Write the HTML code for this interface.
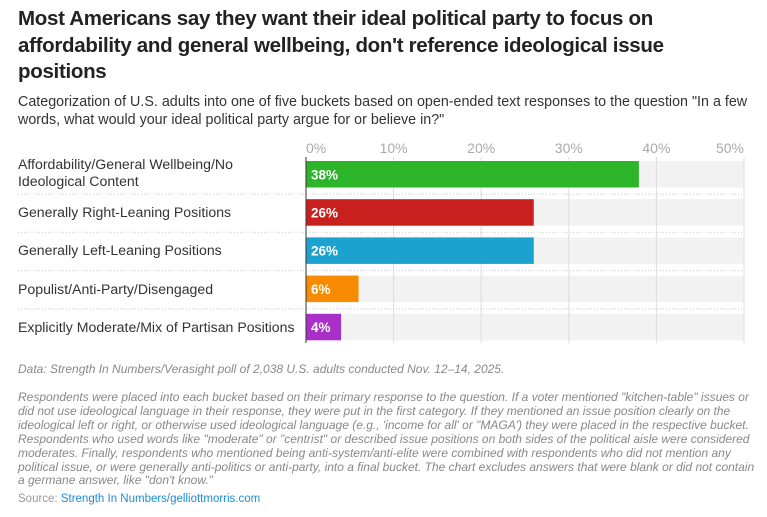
<!DOCTYPE html>
<html><head><meta charset="utf-8"><style>
body{margin:0;width:767px;height:517px;background:#fff;font-family:"Liberation Sans",sans-serif;color:#222;overflow:hidden;position:relative}
.t{position:absolute;left:18px;top:6px;white-space:nowrap;font-size:20.5px;font-weight:bold;line-height:26.5px;letter-spacing:-0.3px;color:#222}
.s{position:absolute;left:18px;top:93px;white-space:nowrap;font-size:14.3px;line-height:18px;color:#333}
.lbl{position:absolute;left:18px;font-size:14.1px;line-height:17px;color:#333}
.n{position:absolute;left:18px;font-size:12px;font-style:italic;color:#888;line-height:13.9px;white-space:nowrap;letter-spacing:0}
.src{position:absolute;left:18px;top:493px;font-size:11.5px;color:#999}
.src span{color:#1a8fd6}
</style></head><body>
<div class="t">Most Americans say they want their ideal political party to focus on<br>affordability and general wellbeing, don't reference ideological issue<br>positions</div>
<div class="s">Categorization of U.S. adults into one of five buckets based on open-ended text responses to the question "In a few<br>words, what would your ideal political party argue for or believe in?"</div>
<svg id="c" width="767" height="517" style="position:absolute;left:0;top:0"></svg>
<div id="labels"></div>
<div class="n" style="top:363px">Data: Strength In Numbers/Verasight poll of 2,038 U.S. adults conducted Nov. 12–14, 2025.</div>
<div class="n" style="top:391px">Respondents were placed into each bucket based on their primary response to the question. If a voter mentioned "kitchen-table" issues or<br>did not use ideological language in their response, they were put in the first category. If they mentioned an issue position clearly on the<br>ideological left or right, or otherwise used ideological language (e.g., 'income for all' or "MAGA') they were placed in the respective bucket.<br>Respondents who used words like "moderate" or "centrist" or described issue positions on both sides of the political aisle were considered<br>moderates. Finally, respondents who mentioned being anti-system/anti-elite were combined with respondents who did not mention any<br>political issue, or were generally anti-politics or anti-party, into a final bucket. The chart excludes answers that were blank or did not contain<br>a germane answer, like "don't know."</div>
<div class="src">Source: <span>Strength In Numbers/gelliottmorris.com</span></div>
<script>
const categories=["Affordability/General Wellbeing/No Ideological Content","Generally Right-Leaning Positions","Generally Left-Leaning Positions","Populist/Anti-Party/Disengaged","Explicitly Moderate/Mix of Partisan Positions"];
const values=[38,26,26,6,4];
const colors=["#2db52a","#c91f1f","#1ba2cf","#f98b00","#a92fc9"];
const ticks=[0,10,20,30,40,50];
const x0=306,x1=744,max=50;
const xs=v=>x0+(x1-x0)*v/max;
const rowTop=i=>161+i*38.2, bh=26.5;
const svg=document.getElementById('c'),NS="http://www.w3.org/2000/svg";
function mk(t,a){const e=document.createElementNS(NS,t);for(const k in a)e.setAttribute(k,a[k]);svg.appendChild(e);return e;}
categories.forEach((c,i)=>{
 const bg=mk('rect',{x:x0,y:rowTop(i),width:x1-x0,height:bh,fill:'#f2f2f2'});
 
 
});
ticks.forEach(t=>{
 if(t>0){const l=mk('line',{x1:xs(t),x2:xs(t),y1:157,y2:343,stroke:'#ddd','stroke-width':1});
 
 }
 const tx=mk('text',{x:t===50?x1:xs(t),y:153,'text-anchor':t===0?'start':(t===50?'end':'middle'),'font-size':14,fill:'#aaa','font-family':'Liberation Sans'});
 tx.textContent=t+'%';
 
 
});
const lab=document.getElementById('labels');
categories.forEach((c,i)=>{
 const y=rowTop(i);
 if(i>0){const s=mk('line',{x1:18,x2:744,y1:y-5,y2:y-5,stroke:'#ccc','stroke-dasharray':'1,2'});
 
 }
 const r=mk('rect',{x:x0,y:y,width:xs(values[i])-x0,height:bh,fill:colors[i]});
 
 
 const v=mk('text',{x:x0+5,y:y+bh/2+5,'font-size':13.5,'font-weight':'bold',fill:'#fff','font-family':'Liberation Sans'});
 v.textContent=values[i]+'%';
 
 
 const d=document.createElement('div');
 d.className='lbl';
 
 
 d.textContent=c;
 d.style.width=(i===4?300:260)+'px';
 d.style.whiteSpace='nowrap';
 if(i===0)d.innerHTML='Affordability/General Wellbeing/No<br>Ideological Content';
 d.style.top=(i===0?y-5:y+5)+'px';
 lab.appendChild(d);
});
const ax=mk('line',{x1:x0,x2:x0,y1:157,y2:343,stroke:'#333','stroke-width':1});


</script>
</body></html>
